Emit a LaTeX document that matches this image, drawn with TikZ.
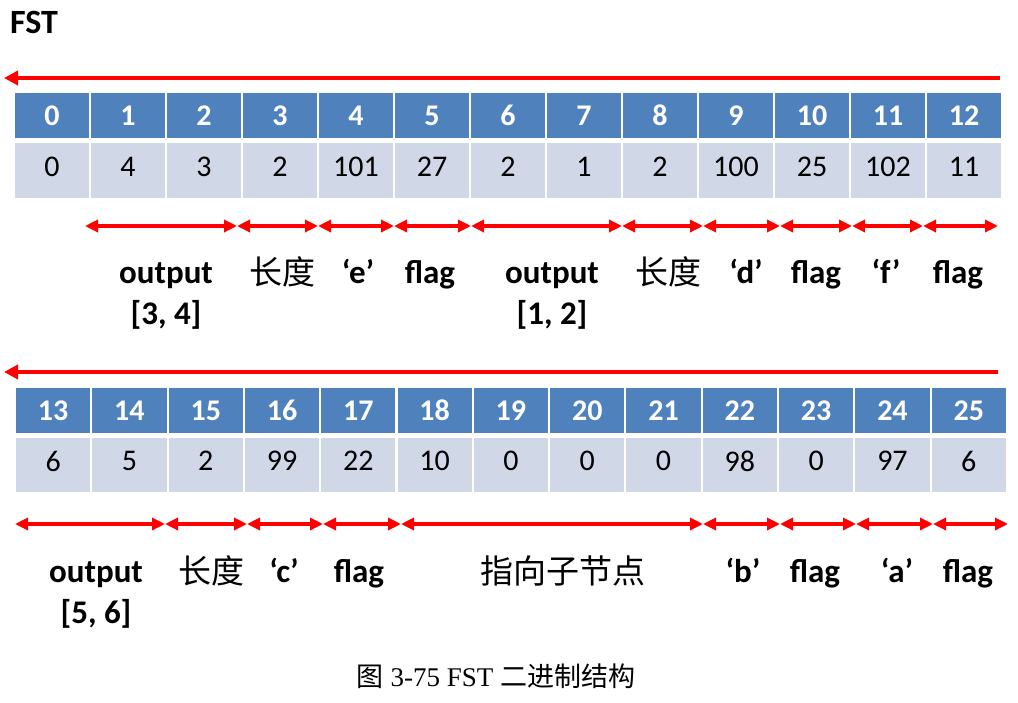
\documentclass[tikz,border=0pt]{standalone}
\usepackage{fontspec}
\setmainfont{Carlito}
\newfontfamily\cjk{Noto Sans CJK SC}
\newfontfamily\capfont{Liberation Serif}
\usetikzlibrary{arrows.meta,positioning}
\definecolor{hdblue}{RGB}{79,129,189}
\definecolor{cellgray}{RGB}{208,216,232}
\definecolor{arrred}{RGB}{255,0,0}

\begin{document}
\begin{tikzpicture}[x=1pt, y=-1pt,
    every node/.style={inner sep=0pt},
    hcell/.style={draw=white, line width=1.8pt, fill=hdblue, minimum width=76pt,
      minimum height=47pt, text=white, font=\fontsize{30}{32}\selectfont\bfseries},
    dcell/.style={draw=white, line width=1.8pt, fill=cellgray, minimum width=76pt,
      minimum height=56pt, text depth=8pt, font=\fontsize{30}{32}\selectfont},
    seg/.style={draw=arrred, line width=3.5pt,
      {Triangle[length=13pt,width=12pt]}-{Triangle[length=13pt,width=12pt]}},
    back/.style={draw=arrred, line width=4.5pt, -{Triangle[length=14pt,width=14pt]}},
    lbl/.style={font=\fontsize{33}{41}\selectfont\bfseries, align=center, anchor=base},
    zh/.style={font=\fontsize{33}{41}\selectfont\cjk, anchor=base}
  ]
  \useasboundingbox (0,0) rectangle (1018,702);

  \node[anchor=base west, font=\fontsize{34}{36}\selectfont\bfseries] (title) at (10,33) {FST};

  % first block: 0..12
  \coordinate (top1r) at (1000,78);
  \coordinate (top1l) at (4,78);
  \draw[back] (top1r) -- (top1l);
  \foreach \v [count=\i from 0] in {0,4,3,2,101,27,2,1,2,100,25,102,11} {
    \node[hcell] (h\i) at (52+76*\i, 115.5) {\i};
    \node[dcell] (d\i) at (52+76*\i, 170.5) {\v};
  }
  \foreach \x [count=\k] in {85,237,318,394,471,622,703,780,852,923,998}
    \coordinate (a\k) at (\x,226);
  \foreach \k in {1,...,10} {
    \pgfmathtruncatemacro\n{\k+1}
    \draw[seg] (a\k) -- (a\n);
  }
  \node[lbl] (o34) at (166,324) {output\\{[3, 4]}};
  \node[zh] (len1) at (282,284) {长度};
  \node[lbl] (ce) at (358,283) {‘e’};
  \node[lbl] (fl1) at (430,283) {flag};
  \node[lbl] (o12) at (552,324) {output\\{[1, 2]}};
  \node[zh] (len2) at (668,284) {长度};
  \node[lbl] (cd) at (746,283) {‘d’};
  \node[lbl] (fl2) at (816,283) {flag};
  \node[lbl] (cf) at (886,283) {‘f’};
  \node[lbl] (fl3) at (958,283) {flag};

  % second block: 13..25
  \coordinate (top2r) at (998,372);
  \coordinate (top2l) at (4,372);
  \draw[back] (top2r) -- (top2l);
  \foreach \v [count=\i from 13] in {6,5,2,99,22,10,0,0,0,98,0,97,6} {
    \node[hcell] (h\i) at (53.15+76.3*\i-991.9, 410.5) {\i};
    \node[dcell] (d\i) at (53.15+76.3*\i-991.9, 465) {\v};
  }
  \foreach \x [count=\k] in {15,165,247,323,401,703,780,856,933,1008}
    \coordinate (b\k) at (\x,524);
  \foreach \k in {1,...,9} {
    \pgfmathtruncatemacro\n{\k+1}
    \draw[seg] (b\k) -- (b\n);
  }
  \node[lbl] (o56) at (96,623) {output\\{[5, 6]}};
  \node[zh] (len3) at (211,583) {长度};
  \node[lbl] (cc) at (284,582) {‘c’};
  \node[lbl] (fl4) at (359,582) {flag};
  \node[zh] (child) at (563,583) {指向子节点};
  \node[lbl] (cb) at (743,582) {‘b’};
  \node[lbl] (fl5) at (815,582) {flag};
  \node[lbl] (ca) at (897,582) {‘a’};
  \node[lbl] (fl6) at (968,582) {flag};

  \node[anchor=base, font=\fontsize{27}{30}\selectfont\capfont] (cap) at (496,686)
    {{\cjk 图} 3-75 FST {\cjk 二进制结构}};
\end{tikzpicture}
\end{document}
